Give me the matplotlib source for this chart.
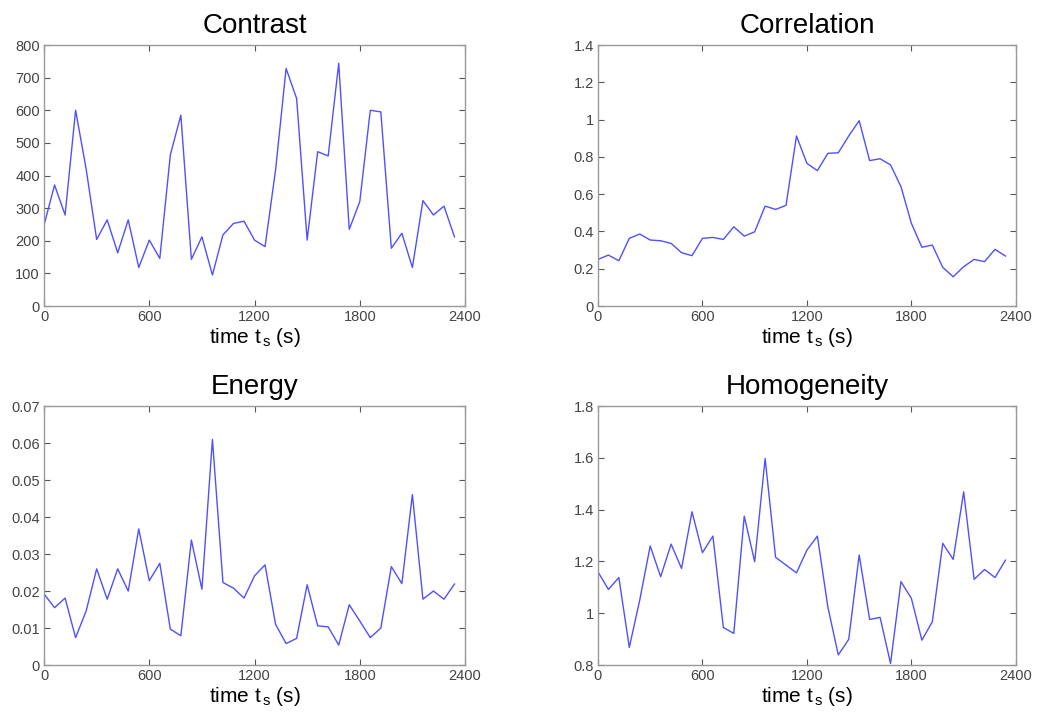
import matplotlib
matplotlib.use("Agg")
import matplotlib.pyplot as plt
import numpy as np

# sample times (s), one value every 60 s
t = np.arange(0, 2400, 60)

contrast = [248, 371, 279, 600, 420, 204, 264, 163, 264, 118,
            202, 146, 463, 585, 143, 212, 95, 218, 253, 260,
            202, 182, 417, 728, 636, 202, 473, 460, 744, 235,
            320, 600, 595, 177, 223, 118, 323, 279, 306, 212]

correlation = [0.25, 0.273, 0.243, 0.363, 0.386, 0.354, 0.35, 0.336, 0.286, 0.27,
               0.363, 0.368, 0.357, 0.425, 0.375, 0.398, 0.536, 0.518, 0.54, 0.912,
               0.765, 0.726, 0.819, 0.822, 0.912, 0.994, 0.78, 0.79, 0.757, 0.64,
               0.443, 0.315, 0.327, 0.207, 0.157, 0.211, 0.25, 0.238, 0.304, 0.268]

energy = [0.0192, 0.0155, 0.0181, 0.0074, 0.0146, 0.026, 0.0178, 0.026, 0.020, 0.0368,
          0.0228, 0.0275, 0.0097, 0.0079, 0.0338, 0.0205, 0.061, 0.0223, 0.0208, 0.0181,
          0.0241, 0.0271, 0.011, 0.0058, 0.0072, 0.0217, 0.0106, 0.0103, 0.0054, 0.0163,
          0.0119, 0.0074, 0.010, 0.0266, 0.022, 0.0461, 0.0178, 0.020, 0.0178, 0.0219]

homogeneity = [1.16, 1.092, 1.138, 0.868, 1.051, 1.26, 1.141, 1.267, 1.173, 1.392,
               1.234, 1.298, 0.945, 0.922, 1.375, 1.199, 1.598, 1.216, 1.186, 1.156,
               1.244, 1.298, 1.025, 0.839, 0.899, 1.225, 0.976, 0.984, 0.806, 1.122,
               1.057, 0.896, 0.967, 1.27, 1.208, 1.469, 1.131, 1.169, 1.138, 1.205]

plt.rcParams['font.family'] = ['Liberation Sans', 'DejaVu Sans']
plt.rcParams['mathtext.fontset'] = 'custom'
plt.rcParams['mathtext.rm'] = 'Liberation Sans'
plt.rcParams['mathtext.it'] = 'Liberation Sans'

fig = plt.figure(figsize=(10.41, 7.19), dpi=100)

panels = [
    ("Contrast", contrast, [0.0423, 0.5744, 0.4044, 0.363], (0, 800), np.arange(0, 801, 100), None),
    ("Correlation", correlation, [0.5744, 0.5744, 0.4015, 0.363], (0, 1.4), np.arange(0, 1.41, 0.2), ['0', '0.2', '0.4', '0.6', '0.8', '1', '1.2', '1.4']),
    ("Energy", energy, [0.0423, 0.0751, 0.4044, 0.360], (0, 0.07), np.arange(0, 0.0701, 0.01), ['0', '0.01', '0.02', '0.03', '0.04', '0.05', '0.06', '0.07']),
    ("Homogeneity", homogeneity, [0.5744, 0.0751, 0.4015, 0.360], (0.8, 1.8), np.arange(0.8, 1.81, 0.2), ['0.8', '1', '1.2', '1.4', '1.6', '1.8']),
]

for title, vals, pos, ylim, yticks, ylabels in panels:
    ax = fig.add_axes(pos)
    ax.plot(t, vals, color='#5050ff', linewidth=1.0)
    ax.set_xlim(0, 2400)
    ax.set_ylim(*ylim)
    ax.set_xticks([0, 600, 1200, 1800, 2400])
    ax.set_yticks(yticks)
    if ylabels is not None:
        ax.set_yticklabels(ylabels)
    ax.tick_params(direction='in', top=True, right=True, length=4, width=0.8,
                   labelsize=10.5, labelcolor='#444444', color='#555555', pad=3)
    for s in ax.spines.values():
        s.set_color('#999999')
        s.set_linewidth(1.0)
    ax.set_title(title, fontsize=20, pad=9)
    ax.set_xlabel(r'time t$_{\,\rm s}$ (s)', fontsize=15, labelpad=1)

fig.savefig("out.png", dpi=100)
